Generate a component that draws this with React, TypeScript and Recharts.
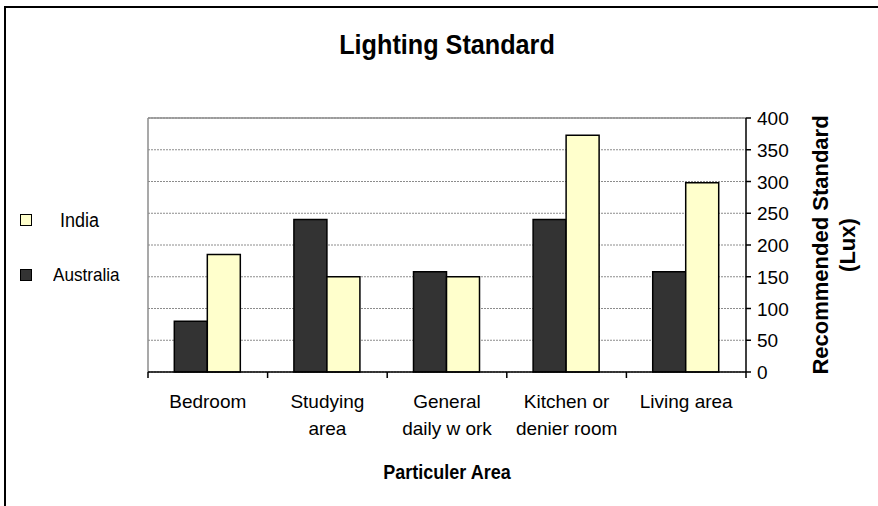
import React from "react";
import { BarChart, Bar, XAxis, YAxis, CartesianGrid, ReferenceLine } from "recharts";

const categories = ["Bedroom", "Studying area", "General daily work", "Kitchen or denier room", "Living area"];
const tickLines = [["Bedroom"], ["Studying", "area"], ["General", "daily w ork"], ["Kitchen or", "denier room"], ["Living area"]];
const australia = [80, 240, 158, 240, 158];
const india = [185, 150, 150, 373, 298];
const yTicks = [0, 50, 100, 150, 200, 250, 300, 350, 400];
const seriesNames = ["Australia", "India"];
const title = "Lighting Standard";
const xTitle = "Particuler Area";
const yTitleLines = ["Recommended Standard", "(Lux)"];

const data = categories.map((c, i) => ({ name: c, Australia: australia[i], India: india[i] }));

const FONT = "'Liberation Sans', Arial, sans-serif";
const SX = 0.9;
const W = 878;
const H = 506;
const margin = { top: 118, right: 72, bottom: 74, left: 148 };
const Y_AXIS_W = 60;
const X_AXIS_H = 60;
const plotW = W - margin.left - margin.right - Y_AXIS_W;
const halfBand = plotW / categories.length / 2;

const squeeze = (x: number) => `matrix(${SX} 0 0 1 ${x * (1 - SX)} 0)`;

const XTick = (props: any) => {
  const { x, y, payload, index } = props;
  const axisY = y - 6;
  const idx = categories.indexOf(payload.value);
  const lines = tickLines[idx >= 0 ? idx : index] || [payload.value];
  return (
    <g>
      <line x1={x - halfBand} x2={x - halfBand} y1={axisY} y2={axisY + 6} stroke="#000" strokeWidth={1.5} />
      {idx === categories.length - 1 && (
        <line x1={x + halfBand} x2={x + halfBand} y1={axisY} y2={axisY + 6} stroke="#000" strokeWidth={1.5} />
      )}
      {lines.map((l: string, i: number) => (
        <text key={i} x={x} y={axisY + 36 + i * 27} textAnchor="middle" fontFamily={FONT} fontSize={19} fill="#000">
          {l}
        </text>
      ))}
    </g>
  );
};

const YTick = (props: any) => {
  const { x, y, payload } = props;
  return (
    <text x={x} y={y + 7} textAnchor="start" fontFamily={FONT} fontSize={19} fill="#000">
      {payload.value}
    </text>
  );
};

const XLabel = (props: any) => {
  const { viewBox } = props;
  const cx = viewBox.x + viewBox.width / 2;
  return (
    <text x={cx} y={viewBox.y + 107} textAnchor="middle" transform={squeeze(cx)} fontFamily={FONT} fontSize={20} fontWeight="bold" fill="#000">
      {xTitle}
    </text>
  );
};

const YLabel = (props: any) => {
  const { viewBox } = props;
  const cy = viewBox.y + viewBox.height / 2;
  const baseX = viewBox.x + 82;
  return (
    <g>
      {yTitleLines.map((l, i) => {
        const tx = baseX + i * 27;
        return (
          <text
            key={i}
            x={tx}
            y={cy}
            textAnchor="middle"
            transform={`rotate(-90 ${tx} ${cy})`}
            fontFamily={FONT}
            fontSize={22}
            fontWeight="bold"
            fill="#000"
          >
            {l}
          </text>
        );
      })}
    </g>
  );
};

const legendStyle: Record<string, { fill: string; top: number; left: number; size: number; textLeft: number; fontSize: number }> = {
  India: { fill: "#FFFFCC", top: 214, left: 20, size: 12, textLeft: 60, fontSize: 20 },
  Australia: { fill: "#333333", top: 269, left: 20, size: 12, textLeft: 53, fontSize: 19 },
};

export default function App() {
  return (
    <div
      style={{
        position: "fixed",
        left: 0,
        top: 0,
        width: W,
        height: H,
        overflow: "hidden",
        background: "#fff",
        fontFamily: FONT,
      }}
    >
      <div
        style={{
          position: "absolute",
          left: 4,
          top: 6,
          width: 1000,
          height: 1000,
          border: "2px solid #000",
          boxSizing: "border-box",
        }}
      />
      <div
        style={{
          position: "absolute",
          left: margin.left,
          width: plotW,
          top: 28,
          textAlign: "center",
          fontSize: 28,
          fontWeight: "bold",
          lineHeight: "34px",
          transform: `scaleX(${SX})`,
        }}
      >
        {title}
      </div>
      {[...seriesNames].reverse().map((s) => {
        const st = legendStyle[s];
        return (
          <React.Fragment key={s}>
            <div
              style={{
                position: "absolute",
                left: st.left,
                top: st.top,
                width: st.size,
                height: st.size,
                background: st.fill,
                border: "1.5px solid #000",
                boxSizing: "border-box",
              }}
            />
            <div
              style={{
                position: "absolute",
                left: st.textLeft,
                top: st.top + st.size / 2 - 13,
                lineHeight: "26px",
                fontSize: st.fontSize,
                color: "#000",
                transform: `scaleX(${SX})`,
                transformOrigin: "left center",
                whiteSpace: "nowrap",
              }}
            >
              {s}
            </div>
          </React.Fragment>
        );
      })}
      <div style={{ position: "absolute", left: 0, top: 0 }}>
        <BarChart width={W} height={H} data={data} margin={margin} barCategoryGap="22%" barGap={0}>
          <CartesianGrid vertical={false} stroke="#8c8c8c" strokeDasharray="2 1" />
          <XAxis
            dataKey="name"
            interval={0}
            height={X_AXIS_H}
            stroke="#000"
            strokeWidth={1.5}
            tickLine={false}
            tickSize={6}
            tickMargin={0}
            tick={<XTick />}
            label={<XLabel />}
          />
          <YAxis
            orientation="right"
            width={Y_AXIS_W}
            domain={[0, 400]}
            ticks={yTicks}
            interval={0}
            stroke="#000"
            strokeWidth={1.5}
            tickSize={5}
            tickMargin={6}
            tick={<YTick />}
            label={<YLabel />}
          />
          <ReferenceLine x={categories[0]} position="start" stroke="#8c8c8c" strokeWidth={1.5} />
          <ReferenceLine y={400} stroke="#8c8c8c" strokeWidth={1.5} />
          <Bar dataKey="Australia" fill="#333333" stroke="#000" strokeWidth={1.5} isAnimationActive={false} />
          <Bar dataKey="India" fill="#FFFFCC" stroke="#000" strokeWidth={1.5} isAnimationActive={false} />
        </BarChart>
      </div>
    </div>
  );
}
